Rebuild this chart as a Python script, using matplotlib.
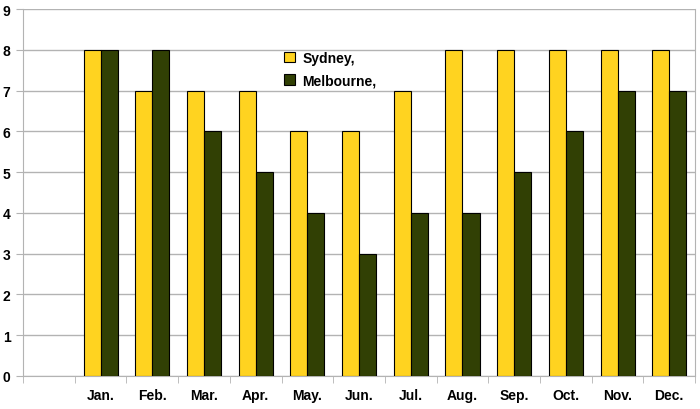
import numpy as np
import matplotlib.pyplot as plt
from matplotlib.ticker import FixedLocator

months = ["Jan.", "Feb.", "Mar.", "Apr.", "May.", "Jun.",
          "Jul.", "Aug.", "Sep.", "Oct.", "Nov.", "Dec."]
sydney = [8, 7, 7, 7, 6, 6, 7, 8, 8, 8, 8, 8]
melbourne = [8, 8, 6, 5, 4, 3, 4, 4, 5, 6, 7, 7]

plt.rcParams['font.family'] = ['Liberation Sans', 'DejaVu Sans']


def main():
    fig = plt.figure(figsize=(7, 4.1), dpi=100)
    ax = fig.add_axes([0.033, 0.0805, 0.96, 0.895])

    x = np.arange(1, len(months) + 1)
    w = 0.33
    ax.bar(x - w / 2, sydney, w, color='#ffd320', edgecolor='black',
           linewidth=0.8, label='Sydney,', zorder=3)
    ax.bar(x + w / 2, melbourne, w, color='#314004', edgecolor='black',
           linewidth=0.8, label='Melbourne,', zorder=3)

    ax.set_xlim(-0.5, len(months) + 0.5)
    ax.set_ylim(0, 9)
    ax.set_yticks(range(10))
    ax.yaxis.grid(True, color='#b3b3b3', linewidth=1, zorder=0)

    ax.set_xticks(x)
    ax.set_xticklabels(months, fontweight='bold', fontsize=10)
    ax.xaxis.set_minor_locator(FixedLocator(np.arange(-0.5, len(months) + 1, 1)))
    ax.tick_params(axis='x', which='major', length=0, pad=9)
    ax.tick_params(axis='x', which='minor', length=5, color='#b3b3b3',
                   direction='out')
    ax.tick_params(axis='y', length=5, color='#b3b3b3', pad=4)
    for lab in ax.get_yticklabels():
        lab.set_fontweight('bold')
        lab.set_fontsize(10)

    ax.spines['top'].set_visible(False)
    for s in ['left', 'bottom', 'right']:
        ax.spines[s].set_color('#b3b3b3')

    ax.legend(loc='upper left', bbox_to_anchor=(0.37, 0.92),
              frameon=False, prop={'weight': 'bold', 'size': 10},
              handlelength=0.8, handleheight=0.8, handletextpad=0.5,
              labelspacing=0.6)

    fig.savefig('out.png', dpi=100)


if __name__ == '__main__':
    main()
